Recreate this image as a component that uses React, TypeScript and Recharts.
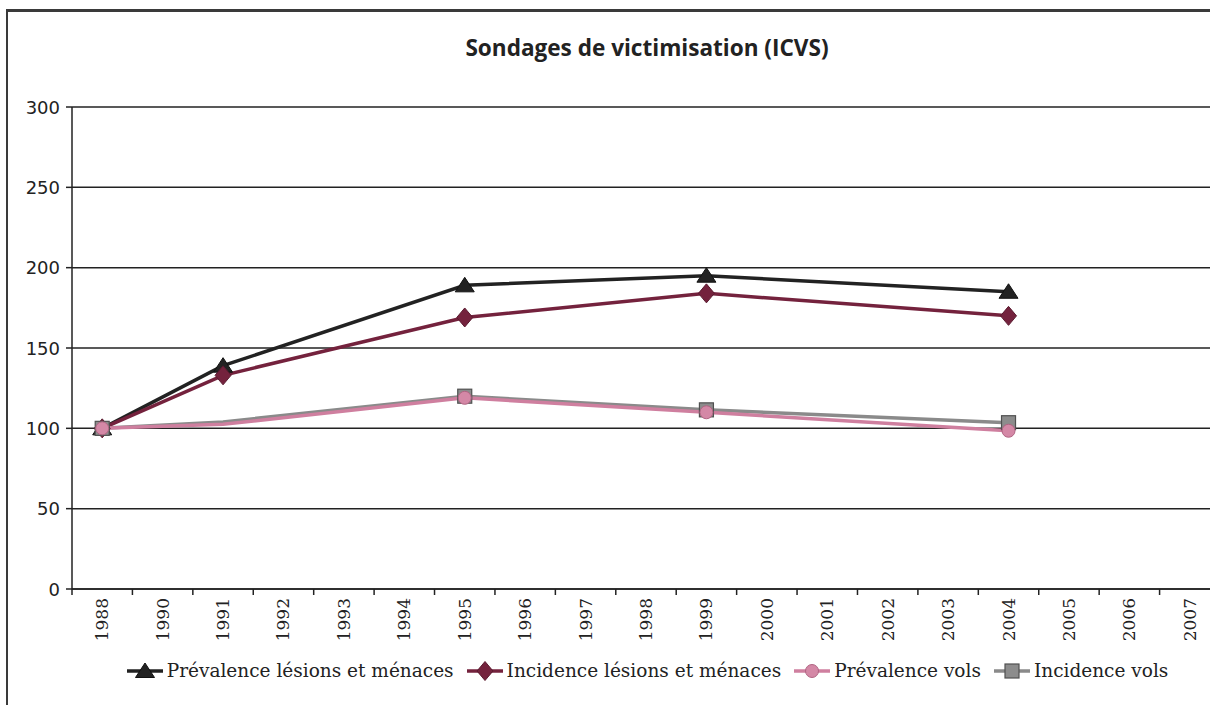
import React from 'react';
import { LineChart, Line, XAxis, YAxis, CartesianGrid } from 'recharts';

const categories = ['1988','1990','1991','1992','1993','1994','1995','1996','1997','1998','1999','2000','2001','2002','2003','2004','2005','2006','2007'];
const prevLesions = [100, null, 139, null, null, null, 189, null, null, null, 195, null, null, null, null, 185, null, null, null];
const incLesions = [100, null, 133, null, null, null, 169, null, null, null, 184, null, null, null, null, 170, null, null, null];
const prevVols = [100, null, 102.5, null, null, null, 119, null, null, null, 110, null, null, null, null, 98.5, null, null, null];
const incVols = [100, null, 104, null, null, null, 120, null, null, null, 111.5, null, null, null, null, 103.5, null, null, null];
const yTicks = [0, 50, 100, 150, 200, 250, 300];
const hiddenMarkerYears = ['1991'];

const TITLE = 'Sondages de victimisation (ICVS)';

const data = categories.map((year, i) => ({
  year,
  prevLesions: prevLesions[i],
  incLesions: incLesions[i],
  prevVols: prevVols[i],
  incVols: incVols[i],
}));

const CHART_W = 1220;
const CHART_H = 705;
const Y_AXIS_W = 72;
const MARGIN = { top: 107, right: 0, bottom: 0, left: 0 };
const X_AXIS_H = 116;
const BAND = (CHART_W - Y_AXIS_W - MARGIN.left - MARGIN.right) / categories.length;

type Shape = 'triangle' | 'diamond' | 'circle' | 'square';

function Marker({ shape, cx, cy, fill, stroke }: { shape: Shape; cx: number; cy: number; fill: string; stroke: string }) {
  if (shape === 'triangle') {
    return <polygon points={`${cx},${cy - 8} ${cx - 9.5},${cy + 6.5} ${cx + 9.5},${cy + 6.5}`} fill={fill} stroke={stroke} strokeWidth={1} />;
  }
  if (shape === 'diamond') {
    return <polygon points={`${cx},${cy - 9.5} ${cx + 8},${cy} ${cx},${cy + 9.5} ${cx - 8},${cy}`} fill={fill} stroke={stroke} strokeWidth={1} />;
  }
  if (shape === 'circle') {
    return <circle cx={cx} cy={cy} r={6.5} fill={fill} stroke={stroke} strokeWidth={1} />;
  }
  return <rect x={cx - 7} y={cy - 7} width={14} height={14} fill={fill} stroke={stroke} strokeWidth={1.2} />;
}

const series = [
  { key: 'prevLesions', name: 'Prévalence lésions et ménaces', color: '#222222', fill: '#222222', mstroke: '#111111', shape: 'triangle' as Shape, hide1991: false },
  { key: 'incLesions', name: 'Incidence lésions et ménaces', color: '#74223d', fill: '#74223d', mstroke: '#5a1a2f', shape: 'diamond' as Shape, hide1991: false },
  { key: 'prevVols', name: 'Prévalence vols', color: '#cf7f9f', fill: '#d488a6', mstroke: '#b06482', shape: 'circle' as Shape, hide1991: true },
  { key: 'incVols', name: 'Incidence vols', color: '#8a8a8a', fill: '#8c8c8c', mstroke: '#505050', shape: 'square' as Shape, hide1991: true },
];

const drawOrder = ['prevLesions', 'incLesions', 'incVols', 'prevVols'];

function makeDot(s: typeof series[number]) {
  return (props: any) => {
    const { cx, cy, payload, index } = props;
    if (cx == null || cy == null || payload == null || payload[s.key] == null) return <g key={`d-${s.key}-${index}`} />;
    if (s.hide1991 && hiddenMarkerYears.includes(payload.year)) return <g key={`d-${s.key}-${index}`} />;
    return <Marker key={`d-${s.key}-${index}`} shape={s.shape} cx={cx} cy={cy} fill={s.fill} stroke={s.mstroke} />;
  };
}

function XTick(props: any) {
  const { x, y, payload } = props;
  const bx = x - BAND / 2;
  return (
    <g>
      <line x1={bx} x2={bx} y1={y} y2={y + 6} stroke="#222" strokeWidth={1.5} />
      <text
        x={x}
        y={y + 9}
        transform={`rotate(-90, ${x}, ${y + 9})`}
        textAnchor="end"
        dominantBaseline="central"
        style={{ fontFamily: "'DejaVu Serif', serif", fontSize: '17px' }}
        fill="#222"
      >
        {payload.value}
      </text>
    </g>
  );
}

function YTick(props: any) {
  const { x, y, payload } = props;
  return (
    <text
      x={x}
      y={y}
      textAnchor="end"
      dominantBaseline="central"
      style={{ fontFamily: "'DejaVu Sans', sans-serif", fontSize: '18px' }}
      fill="#222"
    >
      {payload.value}
    </text>
  );
}

function LegendBox() {
  return (
    <div
      style={{
        position: 'absolute',
        left: 0,
        top: 660,
        width: 1294,
        display: 'flex',
        justifyContent: 'center',
        alignItems: 'center',
        gap: 12,
        fontFamily: "'DejaVu Serif', serif",
        fontSize: 18.5,
        color: '#222',
      }}
    >
      {series.map((s) => (
        <div key={s.key} style={{ display: 'flex', alignItems: 'center' }}>
          <svg width={38} height={20} style={{ marginRight: 3 }}>
            <line x1={1} x2={37} y1={10} y2={10} stroke={s.color} strokeWidth={3.5} />
            <Marker shape={s.shape} cx={19} cy={10} fill={s.fill} stroke={s.mstroke} />
          </svg>
          <span>{s.name}</span>
        </div>
      ))}
    </div>
  );
}

export default function App() {
  return (
    <div style={{ position: 'absolute', left: 0, top: 0, width: 1210, height: 705, overflow: 'hidden', background: '#fff' }}>
      <div style={{ position: 'absolute', left: 6, top: 9, width: 1300, height: 800, border: '2px solid #3a3a3a', borderTopWidth: 3, boxSizing: 'border-box' }} />
      <div
        style={{
          position: 'absolute',
          left: 0,
          top: 32,
          width: 1294,
          textAlign: 'center',
          fontFamily: "'Open Sans', sans-serif",
          fontWeight: 'bold',
          fontSize: 24,
          color: '#222',
          lineHeight: '30px',
          transform: 'scaleX(0.94)',
          transformOrigin: '647px 0',
        }}
      >
        {TITLE}
      </div>
      <div style={{ position: 'absolute', left: 0, top: 0 }}>
        <LineChart width={CHART_W} height={CHART_H} data={data} margin={MARGIN}>
          <CartesianGrid vertical={false} stroke="#222" strokeWidth={1.5} />
          <XAxis
            dataKey="year"
            type="category"
            interval={0}
            height={X_AXIS_H}
            padding={{ left: BAND / 2, right: BAND / 2 }}
            axisLine={{ stroke: '#222', strokeWidth: 1.5 }}
            tickLine={false}
            tickSize={0}
            tickMargin={0}
            tick={<XTick />}
          />
          <YAxis
            width={Y_AXIS_W}
            domain={[0, 300]}
            ticks={yTicks}
            interval={0}
            axisLine={{ stroke: '#222', strokeWidth: 1.5 }}
            tickLine={{ stroke: '#222', strokeWidth: 1.5 }}
            tickSize={6}
            tickMargin={6}
            tick={<YTick />}
          />
          {drawOrder.map((k) => {
            const s = series.find((x) => x.key === k)!;
            return (
              <Line
                key={s.key}
                type="linear"
                dataKey={s.key}
                name={s.name}
                stroke={s.color}
                strokeWidth={3.5}
                connectNulls
                dot={makeDot(s)}
                activeDot={false}
                isAnimationActive={false}
              />
            );
          })}
        </LineChart>
      </div>
      <LegendBox />
    </div>
  );
}
